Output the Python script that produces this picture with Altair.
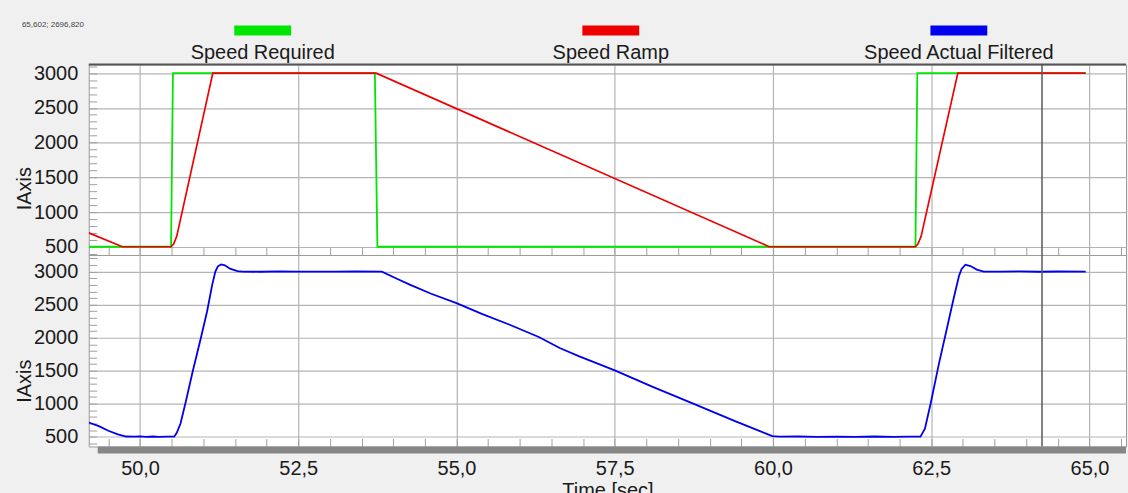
import altair as alt
import pandas as pd

FONT = "Liberation Sans"
FS = 20

series = ["Speed Required", "Speed Ramp", "Speed Actual Filtered"]
colors = ["#00e600", "#ee0000", "#0000ee"]
corner_text = "65,602; 2696,820"

# Speed Required (green)
req_t = [49.19, 50.49, 50.52, 53.71, 53.75, 62.25, 62.28, 64.94]
req_v = [500, 500, 3000, 3000, 500, 500, 3000, 3000]

# Speed Ramp (red)
ramp_t = [49.19, 49.72, 50.49, 50.53, 50.58, 51.15, 53.73, 59.94, 62.25, 62.29, 62.34, 62.92, 64.94]
ramp_v = [700, 500, 500, 540, 650, 3000, 3000, 500, 500, 540, 650, 3000, 3000]

# Speed Actual Filtered (blue)
act_t = [49.19, 49.35, 49.5, 49.65, 49.78, 49.9, 50.0, 50.1, 50.2, 50.3, 50.42, 50.54,
         50.58, 50.64, 50.73, 50.83, 50.96, 51.06, 51.14, 51.19, 51.23, 51.28, 51.34, 51.42,
         51.54, 51.62, 51.9, 52.2, 52.5, 52.8, 53.1, 53.4, 53.82, 54.05, 54.27, 54.6, 55.0,
         55.4, 55.84, 56.3, 56.63, 56.94, 57.5, 58.1, 58.73, 59.4, 59.99, 60.1, 60.4, 60.7,
         61.0, 61.3, 61.6, 61.9, 62.15, 62.33, 62.4, 62.49, 62.62, 62.75, 62.86, 62.94,
         62.98, 63.04, 63.12, 63.22, 63.33, 63.6, 63.9, 64.2, 64.5, 64.94]
act_v = [715, 660, 590, 535, 503, 500, 505, 497, 503, 498, 502, 500,
         560, 700, 1060, 1480, 1990, 2400, 2800, 3000, 3080, 3110, 3095, 3045,
         3008, 3000, 2998, 3003, 2999, 3001, 3000, 3002, 3000, 2895, 2800, 2665, 2523,
         2360, 2195, 2010, 1843, 1716, 1505, 1255, 1005, 735, 510, 500, 503, 498,
         502, 499, 503, 498, 502, 500, 620, 1000, 1600, 2150, 2620, 2940,
         3040, 3105, 3085, 3030, 3000, 3000, 3003, 2998, 3002, 3000]

cursor_t = [64.25]

x_major = [50.0, 52.5, 55.0, 57.5, 60.0, 62.5, 65.0]
x_minor = [49.5 + 0.5 * i for i in range(33)]
y_ticks_top = [400 + 100 * i for i in range(28)]
y_ticks_bot = [400 + 100 * i for i in range(29)]

W = 1040
H = 191
x_dom = [49.19, 65.577]
top_dom = [381, 3125]
bot_dom = [352, 3252]

GRID = "#b4b4b4"
TICK = "#a0a0a0"

xs = alt.Scale(domain=x_dom, nice=False, zero=False)

X_AXIS = alt.Axis(values=x_minor, orient="bottom", offset=-8, tickSize=8, tickColor=TICK,
                  labels=False, domain=False, title=None, grid=True, gridColor=GRID,
                  gridWidth=1.2,
                  gridOpacity={"condition": {"test": "abs(datum.value % 2.5) < 0.001", "value": 1},
                               "value": 0})


def y_axis(vals, ty):
    return alt.Axis(values=vals, orient="left", offset=-8, tickSize=8, tickColor=TICK,
                    labelExpr="datum.value % 500 === 0 && datum.value >= 500 && datum.value <= 3000 ? datum.value : ''",
                    labelOverlap=False,
                    labelPadding=11, domain=False, grid=True, gridColor=GRID, gridWidth=1.2,
                    gridOpacity={"condition": {"test": "datum.value % 500 === 0", "value": 1},
                                 "value": 0},
                    title="IAxis", titleX=-72, titleY=ty, titleBaseline="middle")


Y_TOP = y_axis(y_ticks_top, 124)
Y_BOT = y_axis(y_ticks_bot, 126)

df_req = pd.DataFrame({"t": req_t, "v": req_v})
df_ramp = pd.DataFrame({"t": ramp_t, "v": ramp_v})
df_act = pd.DataFrame({"t": act_t, "v": act_v})
df_cur = pd.DataFrame({"t": cursor_t})
df_leg = pd.DataFrame({"series": series})
df_corner = pd.DataFrame({"txt": [corner_text]})
df_one = pd.DataFrame({"a": [0]})
df_major = pd.DataFrame({"t": x_major})

ys_top = alt.Scale(domain=top_dom, nice=False, zero=False)
ys_bot = alt.Scale(domain=bot_dom, nice=False, zero=False)

green = alt.Chart(df_req).mark_line(color=colors[0], strokeWidth=1.8, clip=True).encode(
    x=alt.X("t:Q", scale=xs, axis=X_AXIS),
    y=alt.Y("v:Q", scale=ys_top, axis=Y_TOP),
)
red = alt.Chart(df_ramp).mark_line(color=colors[1], strokeWidth=1.7, clip=True).encode(
    x=alt.X("t:Q", scale=xs, axis=X_AXIS), y=alt.Y("v:Q", scale=ys_top, axis=Y_TOP)
)
cursor = alt.Chart(df_cur).mark_rule(color="#5a5a5a", strokeWidth=1.5).encode(
    x=alt.X("t:Q", scale=xs, axis=X_AXIS)
)
top_border = alt.Chart(df_one).mark_rule(color="#555555", strokeWidth=2).encode(
    x=alt.value(0), x2=alt.value(W), y=alt.value(0)
)
top = alt.layer(green, red, cursor, top_border).properties(width=W, height=H)

blue = alt.Chart(df_act).mark_line(color=colors[2], strokeWidth=1.8, clip=True).encode(
    x=alt.X("t:Q", scale=xs, axis=X_AXIS),
    y=alt.Y("v:Q", scale=ys_bot, axis=Y_BOT),
)
bottom = alt.layer(blue, cursor).properties(width=W, height=H + 1)

bar_axis = alt.Chart(df_major).mark_point(opacity=0).encode(
    x=alt.X("t:Q", scale=xs,
            axis=alt.Axis(values=x_major, labelExpr="replace(format(datum.value, '.1f'), '.', ',')",
                          ticks=False, tickSize=0, domain=False, grid=False, labelPadding=5,
                          title="Time [sec]", titlePadding=2))
)
bar_rect = alt.Chart(df_one).mark_rect(color="#878787").encode(
    x=alt.value(9), x2=alt.value(W), y=alt.value(0), y2=alt.value(7)
)
bar = alt.layer(bar_axis, bar_rect).properties(
    width=W, height=7, view=alt.ViewBackground(stroke="transparent", fill="transparent")
)

lx = alt.X("series:N", scale=alt.Scale(type="point", domain=series, padding=0.49, align=0.51), axis=None)
leg_sym = alt.Chart(df_leg).mark_point(
    shape="M-1,-0.175L1,-0.175L1,0.175L-1,0.175Z", filled=True, size=3249, opacity=1, strokeWidth=0
).encode(x=lx, y=alt.value(10),
         color=alt.Color("series:N", scale=alt.Scale(domain=series, range=colors), legend=None))
leg_txt = alt.Chart(df_leg).mark_text(fontSize=FS, font=FONT, baseline="alphabetic", color="#1a1a1a").encode(
    x=lx, y=alt.value(38), text="series:N"
)
corner = alt.Chart(df_corner).mark_text(fontSize=8, font=FONT, align="left", baseline="alphabetic",
                                        color="#444444").encode(
    x=alt.value(-67), y=alt.value(6.7), text="txt:N"
)
leg = alt.layer(leg_sym, leg_txt, corner).properties(
    width=W, height=44, view=alt.ViewBackground(stroke="transparent", fill="transparent")
)

chart = alt.vconcat(leg, top, bottom, bar, spacing=0, bounds="flush").properties(
    padding={"left": 14, "top": 19, "right": 0, "bottom": 0},
    background="#f0f0f0",
).configure_view(stroke="#9a9a9a", fill="white").configure_axis(
    labelFont=FONT, labelFontSize=FS, labelColor="#1a1a1a",
    titleFont=FONT, titleFontSize=FS, titleFontWeight="normal", titleColor="#1a1a1a",
)

chart.save("out.html", embed_options={"renderer": "svg", "actions": False})
